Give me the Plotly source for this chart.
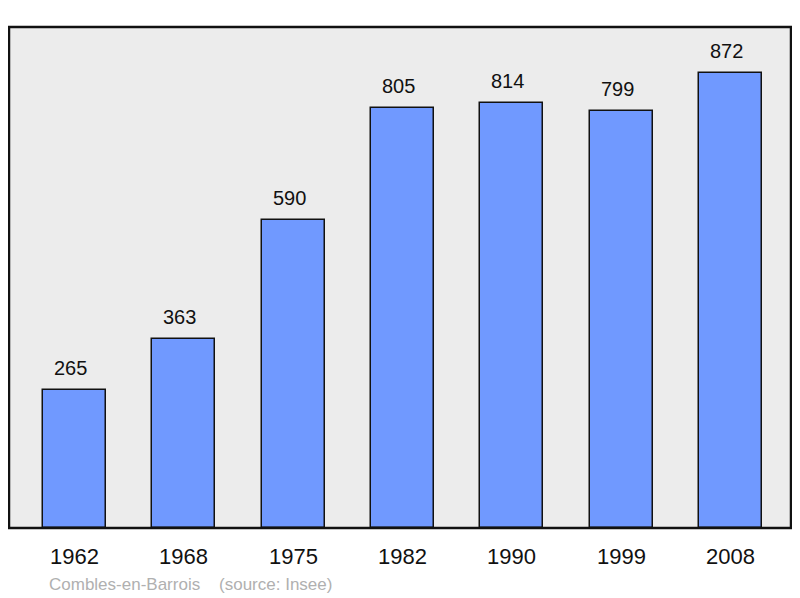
import plotly.graph_objects as go

years = ["1962", "1968", "1975", "1982", "1990", "1999", "2008"]
population = [265, 363, 590, 805, 814, 799, 872]

xs = list(range(len(years)))
fig = go.Figure()
fig.add_trace(go.Bar(
    x=xs, y=population, width=0.576,
    marker=dict(color="#7099ff", line=dict(color="#111111", width=1.5)),
    hoverinfo="skip",
))

for i, (yr, v) in enumerate(zip(years, population)):
    fig.add_annotation(x=i, y=v, text=str(v), showarrow=False, yanchor="middle",
                       yshift=22, xshift=-4,
                       font=dict(size=20, color="#111111", family="Liberation Sans"))
    fig.add_annotation(x=i, y=0, yref="y", text=yr, showarrow=False, yanchor="middle",
                       yshift=-28, font=dict(size=22, color="#111111", family="Liberation Sans"))

fig.add_annotation(xref="paper", yref="paper", x=0.048, y=0, yshift=-56, xanchor="left",
                   yanchor="middle", text="Combles-en-Barrois\u00a0\u00a0\u00a0\u00a0(source: Insee)",
                   showarrow=False, font=dict(size=17, color="#b0b0b0", family="Liberation Sans"))

fig.add_shape(type="rect", xref="paper", yref="paper", x0=0, x1=1, y0=0, y1=1,
              line=dict(color="#111111", width=2.5), layer="above")

fig.update_layout(
    width=792, height=590,
    margin=dict(l=1, r=9, t=19, b=70),
    plot_bgcolor="#ececec", paper_bgcolor="#ffffff",
    showlegend=False,
    xaxis=dict(range=[-0.6, 6.555], showticklabels=False, showgrid=False, zeroline=False,
               fixedrange=True),
    yaxis=dict(range=[0, 960], showticklabels=False, showgrid=False, zeroline=False,
               fixedrange=True),
    bargap=0,
)

fig.write_html("out.html")
